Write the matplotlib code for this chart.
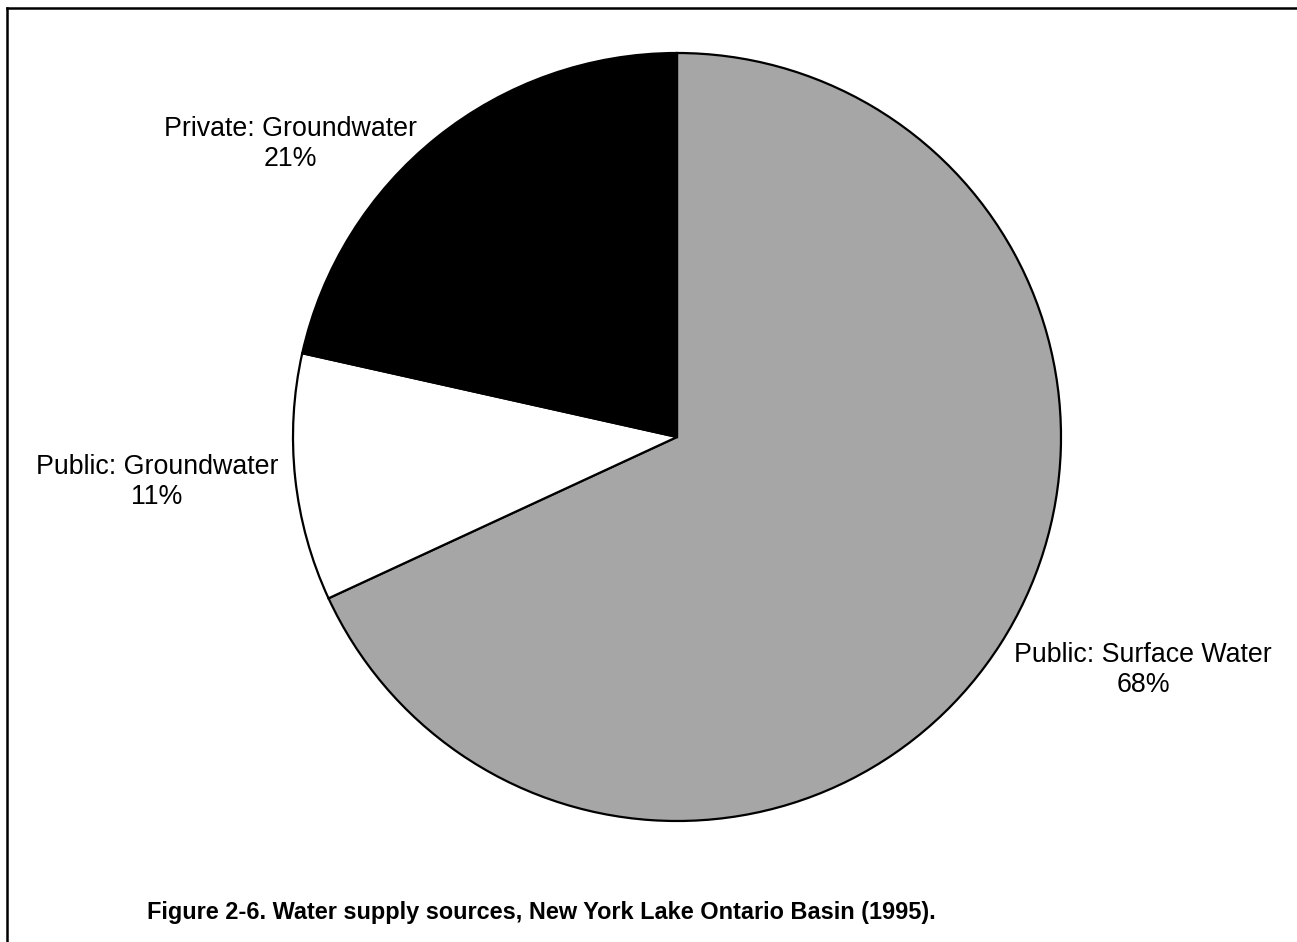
import matplotlib.pyplot as plt
from matplotlib.lines import Line2D

plt.rcParams['font.family'] = ['Liberation Sans', 'DejaVu Sans']

# datos del grafico
fuentes = ['Public: Surface Water', 'Public: Groundwater', 'Private: Groundwater']
valores = [68.1, 10.4, 21.5]
etiquetas_pct = ['68%', '11%', '21%']
colores = ['#a6a6a6', '#ffffff', '#000000']
titulo = 'Figure 2-6. Water supply sources, New York Lake Ontario Basin (1995).'

W, H = 1297, 942
fig = plt.figure(figsize=(W / 100, H / 100), dpi=100)
ax = fig.add_axes([0, 0, 1, 1])
ax.set_xlim(0, W)
ax.set_ylim(0, H)
ax.set_aspect('equal')
ax.axis('off')

# pastel: centro y radio en pixeles
cx, cy, r = 677, H - 437, 384
ax.pie(valores, colors=colores, startangle=90, counterclock=False,
       center=(cx, cy), radius=r,
       wedgeprops={'edgecolor': 'black', 'linewidth': 1.6})
ax.set_xlim(0, W)
ax.set_ylim(0, H)

# posiciones de las etiquetas (pixeles)
pos = [(1143, 670), (157, 482), (290, 144)]
for nombre, pct, (x, y) in zip(fuentes, etiquetas_pct, pos):
    ax.text(x, H - y, nombre + '\n' + pct, ha='center', va='center',
            fontsize=19.3, linespacing=1.22)

ax.text(541, H - 912, titulo, ha='center', va='center',
        fontsize=16.95, fontweight='bold')

# marco superior e izquierdo
fig.add_artist(Line2D([7 / W, 1], [1 - 7.5 / H, 1 - 7.5 / H], color='black',
                      linewidth=1.8, transform=fig.transFigure))
fig.add_artist(Line2D([7 / W, 7 / W], [0, 1 - 7.5 / H], color='black',
                      linewidth=1.8, transform=fig.transFigure))

plt.savefig('out.png', dpi=100)
